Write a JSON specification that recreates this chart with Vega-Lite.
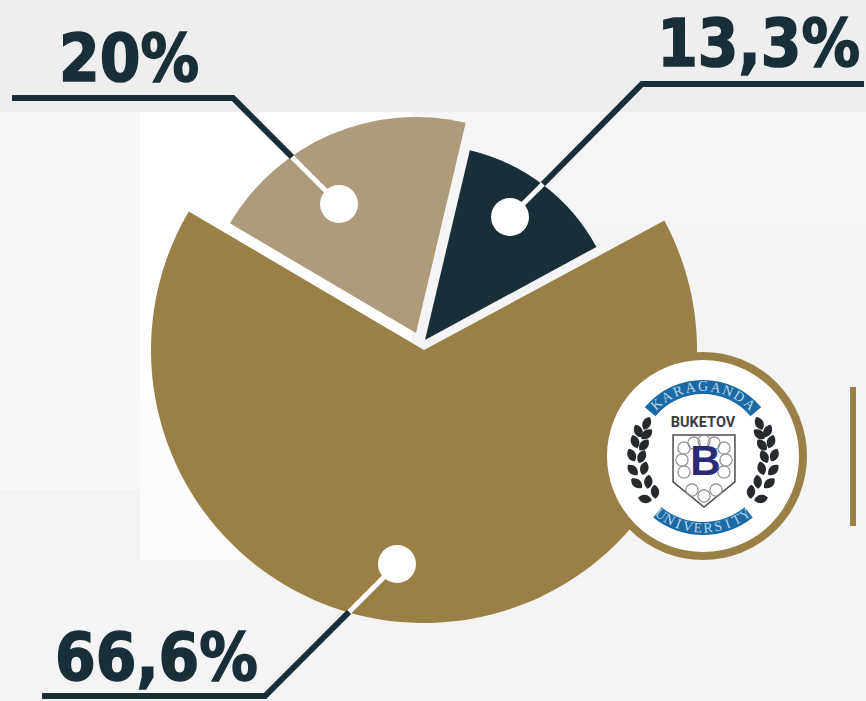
{
"$schema":"https://vega.github.io/schema/vega-lite/v6.json",
"width":866,"height":701,"padding":0,
"autosize":{"type":"fit","contains":"padding"},
"background":"#f4f4f4",
"config":{"view":{"stroke":null}},
"datasets":{
"bg":[
{"x":0,"x2":866,"y":0,"y2":112,"c":"#eeeeee"},
{"x":0,"x2":140,"y":112,"y2":490,"c":"#f8f8f8"},
{"x":140,"x2":412,"y":112,"y2":400,"c":"#ffffff"},
{"x":140,"x2":330,"y":400,"y2":560,"c":"#fcfcfc"},
{"x":412,"x2":866,"y":112,"y2":230,"c":"#f5f5f5"}
],
"slices":[
{"name":"66,6%","start":61.7,"end":300.5,"cx":424,"cy":350,"r0":0,"r":273,"c":"#9a8047"},
{"name":"20%","start":-59.5,"end":13.3,"cx":416,"cy":333,"r0":0,"r":216,"c":"#ae9b7b"},
{"name":"13,3%","start":13.3,"end":61.5,"cx":425,"cy":340,"r0":0,"r":195,"c":"#1a2e37"}
],
"leaders":[
{"id":"a","o":1,"x":12,"y":98},{"id":"a","o":2,"x":233,"y":98},{"id":"a","o":3,"x":292,"y":157},
{"id":"b","o":1,"x":864,"y":84},{"id":"b","o":2,"x":642,"y":84},{"id":"b","o":3,"x":543,"y":184},
{"id":"c","o":1,"x":42,"y":696},{"id":"c","o":2,"x":265,"y":696},{"id":"c","o":3,"x":349,"y":612}
],
"stems":[
{"id":"a","o":1,"x":292,"y":157},{"id":"a","o":2,"x":339,"y":204},
{"id":"b","o":1,"x":543,"y":184},{"id":"b","o":2,"x":510,"y":217},
{"id":"c","o":1,"x":349,"y":612},{"id":"c","o":2,"x":397,"y":564}
],
"dots":[{"x":339,"y":204},{"x":510,"y":217},{"x":397,"y":564}],
"labelsL":[{"t":"20%","x":59,"y":81},{"t":"66,6%","x":55,"y":680}],
"labelsR":[{"t":"13,3%","x":860,"y":66}],
"logo":[{"x":703,"y":456}],
"bar":[{"x":850,"x2":856,"y":387,"y2":526}],
"banners":[
{"start":-50,"end":50,"cx":703,"cy":456,"r0":62,"r":76,"c":"#1b6aa5"},
{"start":141,"end":219,"cx":703,"cy":456,"r0":66,"r":79,"c":"#1b6aa5"}
],
"letters":[
{"t":"K","x":656.8,"y":404.7,"a":-42},{"t":"A","x":667,"y":397.1,"a":-31.5},{"t":"R","x":678.3,"y":391.6,"a":-21},{"t":"A","x":690.4,"y":388.2,"a":-10.5},{"t":"G","x":703,"y":387,"a":0},{"t":"A","x":715.6,"y":388.2,"a":10.5},{"t":"N","x":727.7,"y":391.6,"a":21},{"t":"D","x":739,"y":397.1,"a":31.5},{"t":"A","x":749.2,"y":404.7,"a":42},
{"t":"U","x":660.4,"y":514.7,"a":36},{"t":"N","x":669,"y":520,"a":28},{"t":"I","x":678.2,"y":524.2,"a":20},{"t":"V","x":687.9,"y":526.9,"a":12},{"t":"E","x":697.9,"y":528.4,"a":4},{"t":"R","x":708.1,"y":528.4,"a":-4},{"t":"S","x":718.1,"y":526.9,"a":-12},{"t":"I","x":727.8,"y":524.2,"a":-20},{"t":"T","x":737,"y":520,"a":-28},{"t":"Y","x":745.6,"y":514.7,"a":-36}
],
"leaves":[
{"x":646.7,"y":423.3,"a":25},{"x":638.3,"y":431,"a":-25},{"x":646.7,"y":434.3,"a":50},
{"x":635,"y":441.7,"a":-20},{"x":644,"y":445,"a":40},{"x":631.7,"y":455,"a":-25},{"x":641.7,"y":456.7,"a":25},
{"x":632.7,"y":470,"a":-45},{"x":644.3,"y":468.3,"a":15},{"x":636.7,"y":483.3,"a":-50},{"x":648.3,"y":481.7,"a":5},
{"x":645,"y":499,"a":-80},{"x":655,"y":491.7,"a":-5},
{"x":759.3,"y":423.3,"a":-25},{"x":767.7,"y":431,"a":25},{"x":759.3,"y":434.3,"a":-50},
{"x":771,"y":441.7,"a":20},{"x":762,"y":445,"a":-40},{"x":774.3,"y":455,"a":25},{"x":764.3,"y":456.7,"a":-25},
{"x":773.3,"y":470,"a":45},{"x":761.7,"y":468.3,"a":-15},{"x":769.3,"y":483.3,"a":50},{"x":757.7,"y":481.7,"a":-5},
{"x":761,"y":499,"a":80},{"x":751,"y":491.7,"a":5}
],
"shield":[{"x":704,"y":471}],
"ornaments":[
{"x":684,"y":448},{"x":724,"y":448},{"x":682,"y":460},{"x":726,"y":460},{"x":684,"y":472},{"x":724,"y":472},{"x":692,"y":490},{"x":716,"y":490},{"x":694,"y":443},{"x":714,"y":443},{"x":704,"y":441},{"x":704,"y":496}
],
"mono":[{"t":"B","x":705.5,"y":462}],
"uni":[{"t":"BUKETOV","x":703,"y":423}]
},
"encoding":{
"x":{"field":"x","type":"quantitative","axis":null,"scale":{"domain":[0,866],"range":[0,866],"nice":false,"zero":false}},
"y":{"field":"y","type":"quantitative","axis":null,"scale":{"domain":[0,701],"range":[0,701],"nice":false,"zero":false}}
},
"layer":[
{"data":{"name":"bg"},"mark":{"type":"rect"},"encoding":{"x2":{"field":"x2"},"y2":{"field":"y2"},"color":{"field":"c","type":"nominal","scale":null}}},
{"data":{"name":"slices"},"mark":{"type":"arc"},"encoding":{
"x":{"field":"cx","type":"quantitative"},"y":{"field":"cy","type":"quantitative"},
"theta":{"field":"start","type":"quantitative","scale":{"domain":[-360,360],"range":[-6.283185,6.283185]}},"theta2":{"field":"end"},
"radius":{"field":"r","type":"quantitative","scale":{"type":"linear","domain":[0,300],"range":[0,300]}},"radius2":{"field":"r0"},
"color":{"field":"c","type":"nominal","scale":null}}},
{"data":{"name":"stems"},"mark":{"type":"line","color":"#ffffff","strokeWidth":5},"encoding":{"detail":{"field":"id"},"order":{"field":"o"}}},
{"data":{"name":"leaders"},"mark":{"type":"line","color":"#1a2e37","strokeWidth":6,"strokeJoin":"miter"},"encoding":{"detail":{"field":"id"},"order":{"field":"o"}}},
{"data":{"name":"dots"},"mark":{"type":"point","filled":true,"opacity":1,"color":"#ffffff","size":1444,"shape":"circle"}},
{"data":{"name":"labelsL"},"mark":{"type":"text","align":"left","baseline":"alphabetic","font":"DejaVu Sans Condensed","fontWeight":"bold","fontSize":65,"color":"#1a2e37","stroke":"#1a2e37","strokeWidth":1.5},"encoding":{"text":{"field":"t"}}},
{"data":{"name":"labelsR"},"mark":{"type":"text","align":"right","baseline":"alphabetic","font":"DejaVu Sans Condensed","fontWeight":"bold","fontSize":65,"color":"#1a2e37","stroke":"#1a2e37","strokeWidth":1.5},"encoding":{"text":{"field":"t"}}},
{"data":{"name":"logo"},"mark":{"type":"point","filled":true,"opacity":1,"fill":"#ffffff","stroke":"#9a8047","strokeWidth":8,"size":40000,"shape":"circle"}},
{"data":{"name":"bar"},"mark":{"type":"rect","color":"#9a8047"},"encoding":{"x2":{"field":"x2"},"y2":{"field":"y2"}}},
{"data":{"name":"banners"},"mark":{"type":"arc"},"encoding":{
"x":{"field":"cx","type":"quantitative"},"y":{"field":"cy","type":"quantitative"},
"theta":{"field":"start","type":"quantitative"},"theta2":{"field":"end"},
"radius":{"field":"r","type":"quantitative"},"radius2":{"field":"r0"},
"color":{"field":"c","type":"nominal","scale":null}}},
{"data":{"name":"letters"},"mark":{"type":"text","align":"center","baseline":"middle","font":"Liberation Serif","fontSize":14,"color":"#b9d6ea"},"encoding":{"text":{"field":"t"},"angle":{"field":"a","type":"quantitative","scale":null}}},
{"data":{"name":"leaves"},"mark":{"type":"point","filled":true,"opacity":1,"color":"#26292d","size":196,"shape":"M0,-1 C0.8,-0.5 0.8,0.5 0,1 C-0.8,0.5 -0.8,-0.5 0,-1 Z"},"encoding":{"angle":{"field":"a","type":"quantitative","scale":null}}},
{"data":{"name":"shield"},"mark":{"type":"point","filled":true,"opacity":1,"fill":"#ffffff","stroke":"#4a4a4f","strokeWidth":1.5,"size":5184,"shape":"M-0.86,-1 L0.86,-1 L0.86,0.3 L0,1 L-0.86,0.3 Z"}},
{"data":{"name":"ornaments"},"mark":{"type":"point","filled":false,"opacity":1,"color":"#8f8f94","strokeWidth":1.2,"size":150,"shape":"circle"}},
{"data":{"name":"mono"},"mark":{"type":"text","align":"center","baseline":"middle","font":"Liberation Sans","fontWeight":"bold","fontSize":42,"color":"#2b2a7a"},"encoding":{"text":{"field":"t"}}},
{"data":{"name":"uni"},"mark":{"type":"text","align":"center","baseline":"middle","font":"Roboto","fontWeight":"bold","fontSize":14.5,"color":"#3a3a3f"},"encoding":{"text":{"field":"t"}}}
]
}
